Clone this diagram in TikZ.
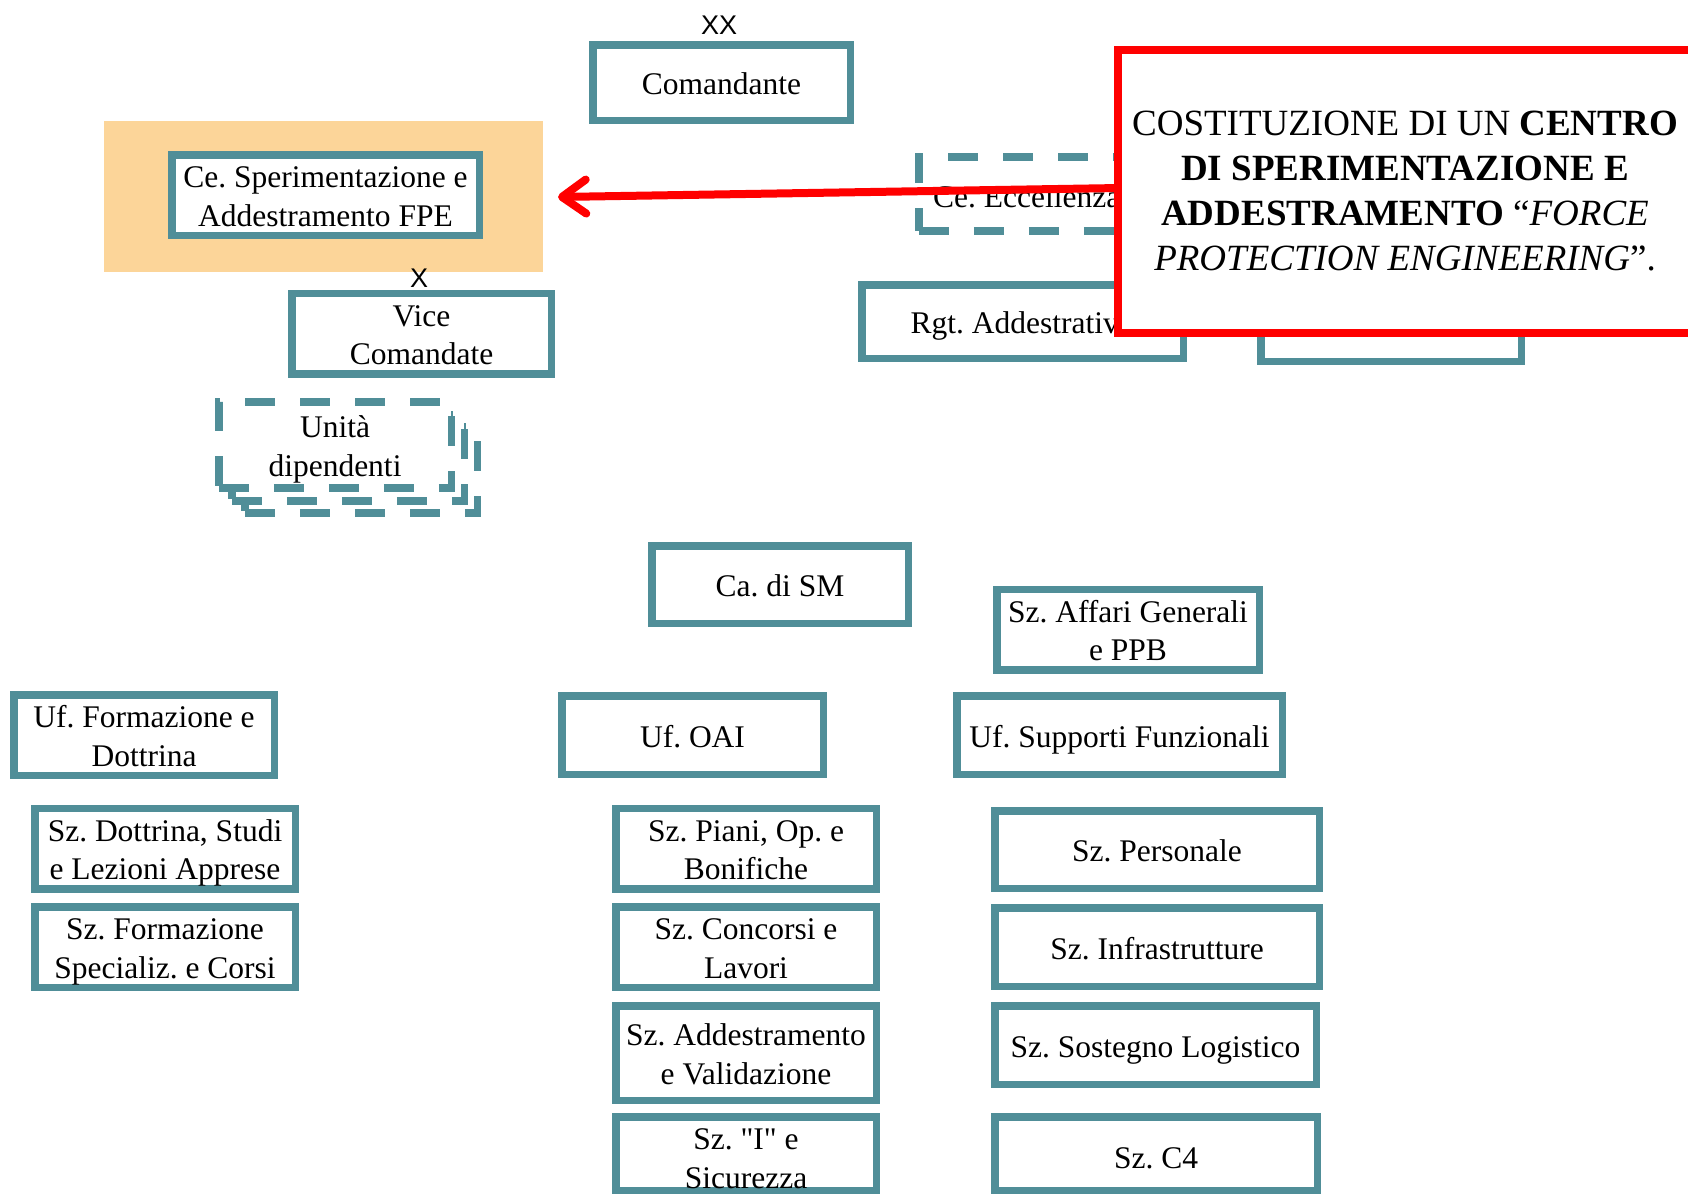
\documentclass[tikz,border=0pt]{standalone}
\usepackage{fontspec}
\setmainfont{Liberation Serif}[Ligatures=TeXOff]
\newfontfamily\labsans{Liberation Sans}
\usetikzlibrary{arrows.meta}
\frenchspacing
\definecolor{boxteal}{RGB}{80,142,152}
\definecolor{fpeorange}{RGB}{252,213,153}
\definecolor{notered}{RGB}{255,0,0}
\newcommand\topstrut{\rule{0pt}{33pt}}
\newcommand\botstrut{\rule[-9pt]{0pt}{9pt}}
\tikzset{
  box/.style={draw=boxteal, line width=7.5pt, fill=white, inner sep=0pt, align=center,
    font=\fontsize{31.5}{38.5}\selectfont,
    execute at begin node=\topstrut, execute at end node=\botstrut},
  dbox/.style={box, dash pattern=on 30pt off 25pt},
  lbl/.style={font=\labsans\fontsize{27}{30}\selectfont, inner sep=0pt},
  txt/.style={inner sep=0pt, align=center, font=\fontsize{31.5}{38.5}\selectfont},
  notebox/.style={draw=notered, line width=8pt, fill=white, inner sep=0pt},
  notetxt/.style={inner sep=0pt, align=center, font=\fontsize{37}{45}\selectfont},
  redarrow/.style={draw=notered, line width=8pt, -{Straight Barb[length=24pt,width=34pt,round]}}
}
\begin{document}
\begin{tikzpicture}[x=1pt,y=-1pt]
\useasboundingbox (0,0) rectangle (1688,1194);
\clip (0,0) rectangle (1688,1194);

% top area
\node[lbl] (xx) at (719,25) {XX};
\node[box, minimum width=257.5pt, minimum height=75.5pt] (cmd) at (721.5,82.5) {Comandante};

\node[fill=fpeorange, inner sep=0pt, minimum width=439pt, minimum height=151pt] (fpebg) at (323.5,196.5) {};
\node[box, minimum width=307.5pt, minimum height=77.5pt] (cesp) at (325.5,195) {\topstrut Ce. Sperimentazione e\\Addestramento FPE};
\node[lbl] (x1) at (419,278) {X};
\node[box, minimum width=259.5pt, minimum height=77.5pt] (vice) at (421.5,333.5) {\topstrut Vice\\Comandate};

% Unita dipendenti (stacked)
\node[dbox, minimum width=232.5pt, minimum height=86pt] (unit3) at (361,470) {};
\node[dbox, minimum width=232.5pt, minimum height=86pt] (unit2) at (348,458) {};
\node[dbox, minimum width=232.5pt, minimum height=86pt] (unit) at (335,445) {\topstrut Unità\\dipendenti};

% right top boxes (partly hidden)
\node[dbox, minimum width=267.5pt, minimum height=74pt] (ceecc) at (1052.5,194) {};
\node[txt, anchor=base west] (ceecct) at (933,207) {Ce. Eccellenza};
\node[box, minimum width=321.5pt, minimum height=73.5pt] (rgt) at (1022.5,321.5) {Rgt. Addestrativo};
\node[box, minimum width=260.5pt, minimum height=73.5pt] (rbox) at (1391,324.5) {};

% note box and arrow
\node[notebox, minimum width=604pt, minimum height=283pt] (note) at (1420,191.5) {};
\node[notetxt] (notet) at (1405,191.5) {COSTITUZIONE DI UN \textbf{CENTRO}\\\textbf{DI SPERIMENTAZIONE E}\\\textbf{ADDESTRAMENTO} “\textit{FORCE}\\\textit{PROTECTION ENGINEERING}”.};
\coordinate (tip) at (558,197);
\draw[redarrow] ([yshift=3.5pt,xshift=6pt]note.west) -- (tip);

% staff
\node[box, minimum width=256.5pt, minimum height=77.5pt] (casm) at (780,584.5) {Ca. di SM};
\node[box, minimum width=262.5pt, minimum height=77.5pt] (affari) at (1128,629.5) {\topstrut Sz. Affari Generali\\e PPB};

\node[box, minimum width=260.5pt, minimum height=78.5pt] (ufform) at (144,735) {\topstrut Uf. Formazione e\\Dottrina};
\node[box, minimum width=261.5pt, minimum height=78.5pt] (ufoai) at (692.5,735) {Uf. OAI};
\node[box, minimum width=325.5pt, minimum height=78.5pt] (ufsupp) at (1119.5,735) {Uf. Supporti Funzionali};

\node[box, minimum width=260.5pt, minimum height=77.5pt] (szdott) at (165,848.5) {\topstrut Sz. Dottrina, Studi\\e Lezioni Apprese};
\node[box, minimum width=260.5pt, minimum height=78.5pt] (szform) at (165,947) {\topstrut Sz. Formazione\\Specializ. e Corsi};

\node[box, minimum width=260.5pt, minimum height=77.5pt] (szpiani) at (746,848.5) {\topstrut Sz. Piani, Op. e\\Bonifiche};
\node[box, minimum width=260.5pt, minimum height=78.5pt] (szconc) at (746,947) {\topstrut Sz. Concorsi e\\Lavori};
\node[box, minimum width=260.5pt, minimum height=94.5pt] (szadd) at (746,1053) {\topstrut Sz. Addestramento\\e Validazione};
\node[box, minimum width=260.5pt, minimum height=73.5pt] (szI) at (746,1153.5) {};
\node[txt] (szIt) at (746,1158.5) {Sz. "I" e\\Sicurezza};

\node[box, minimum width=324.5pt, minimum height=77.5pt] (szpers) at (1157,849.5) {Sz. Personale};
\node[box, minimum width=324.5pt, minimum height=78.5pt] (szinfr) at (1157,947) {Sz. Infrastrutture};
\node[box, minimum width=321.5pt, minimum height=78.5pt] (szsost) at (1155.5,1045) {Sz. Sostegno Logistico};
\node[box, minimum width=322.5pt, minimum height=73.5pt] (szc4) at (1156,1153.5) {};
\node[txt] (szc4t) at (1156,1158) {Sz. C4};
\end{tikzpicture}
\end{document}
